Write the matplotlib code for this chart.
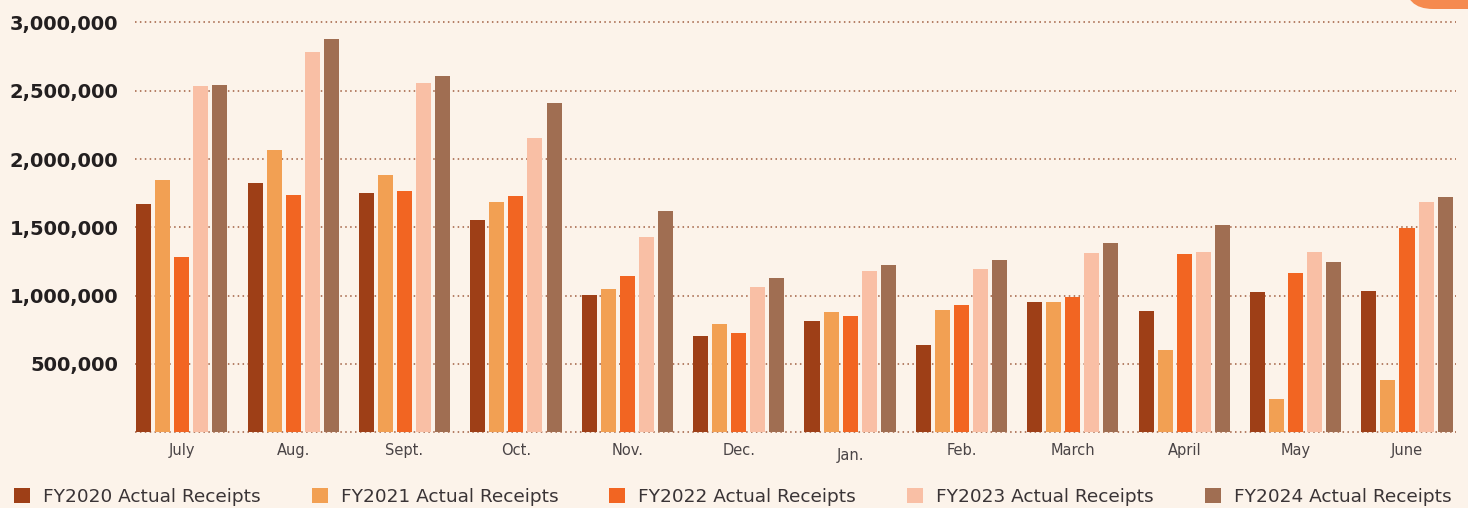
import matplotlib
matplotlib.use("Agg")
import matplotlib.pyplot as plt
import numpy as np
from matplotlib.patches import Patch, FancyBboxPatch
import matplotlib.transforms as mtransforms

months = ["July", "Aug.", "Sept.", "Oct.", "Nov.", "Dec.", "Jan.", "Feb.",
          "March", "April", "May", "June"]
series_names = ["FY2020 Actual Receipts", "FY2021 Actual Receipts",
                "FY2022 Actual Receipts", "FY2023 Actual Receipts",
                "FY2024 Actual Receipts"]
fy2020 = [1671000, 1825000, 1752000, 1554000, 1005000, 705000, 815000, 639000, 954000, 888000, 1030000, 1038000]
fy2021 = [1847000, 2067000, 1884000, 1686000, 1049000, 793000, 881000, 895000, 954000, 602000, 244000, 383000]
fy2022 = [1283000, 1737000, 1767000, 1730000, 1145000, 727000, 851000, 932000, 991000, 1306000, 1163000, 1496000]
fy2023 = [2535000, 2784000, 2557000, 2154000, 1430000, 1064000, 1181000, 1196000, 1313000, 1320000, 1320000, 1686000]
fy2024 = [2543000, 2879000, 2608000, 2411000, 1620000, 1130000, 1225000, 1262000, 1386000, 1518000, 1247000, 1723000]
y_ticks = [500000, 1000000, 1500000, 2000000, 2500000, 3000000]
y_tick_labels = ["500,000", "1,000,000", "1,500,000", "2,000,000", "2,500,000", "3,000,000"]

colors = ["#9E3F17", "#F2A053", "#F26522", "#F9BFA5", "#A06E52"]
bg = "#FCF3EA"

W, H = 1468, 508
fig = plt.figure(figsize=(W / 100, H / 100), dpi=100, facecolor=bg)
ax = fig.add_axes([135 / W, 1 - 432.3 / H, (1456 - 135) / W, (432.3 - 22.5) / H])
ax.set_facecolor(bg)

x = np.arange(len(months))
step = 0.171
width = 0.135
all_series = [fy2020, fy2021, fy2022, fy2023, fy2024]
for i, (vals, c) in enumerate(zip(all_series, colors)):
    ax.bar(x + (i - 2) * step, vals, width=width, color=c, zorder=3, linewidth=0)

ax.set_xlim(-0.42, 11.44)
ax.set_ylim(0, 3000000)

grid_kw = dict(color="#A05E40", linestyle=(0, (1, 2.2)), linewidth=1.1, zorder=1, clip_on=False)
for v in [0] + y_ticks:
    ax.axhline(v, **grid_kw)

ax.set_yticks(y_ticks)
ax.set_yticklabels(y_tick_labels, fontsize=14, fontweight="bold", color="#231F20")
ax.set_xticks(x)
ax.set_xticklabels(months, fontsize=10.5, color="#4A4446")
ax.tick_params(axis="y", length=0, pad=12)
ax.tick_params(axis="x", length=0, pad=8)
for s in ax.spines.values():
    s.set_visible(False)

# January label sits slightly lower in the reference
jan = ax.get_xticklabels()[6]
jan.set_transform(jan.get_transform() + mtransforms.ScaledTranslation(0, -5 / 100, fig.dpi_scale_trans))

handles = [Patch(facecolor=c, edgecolor="none") for c in colors]
fig.legend(handles, series_names, loc="center left", bbox_to_anchor=(14 / W, 1 - 496.5 / H),
           ncol=5, frameon=False, fontsize=13.3, handlelength=0.87, handleheight=0.87,
           handletextpad=0.7, columnspacing=2.76, borderpad=0, borderaxespad=0,
           labelcolor="#3A3436")

# decorative orange shape at top right
blob = FancyBboxPatch((1405, H - 9), 120, 60, boxstyle="round,pad=0,rounding_size=28",
                      transform=None, facecolor="#F58A4F", edgecolor="none")
fig.patches.append(blob)

fig.savefig("out.png", dpi=100, facecolor=bg)
